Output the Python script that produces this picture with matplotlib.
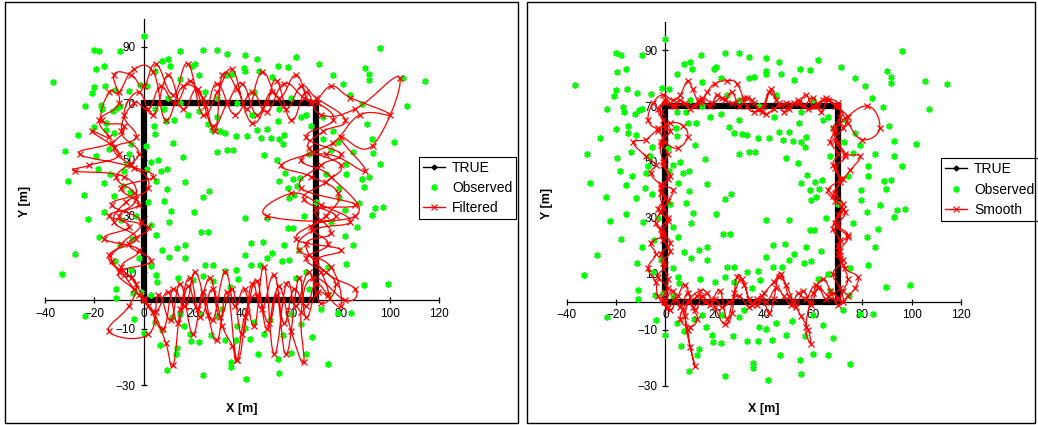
import numpy as np
import matplotlib
matplotlib.use("Agg")
import matplotlib.pyplot as plt
from matplotlib.path import Path
from matplotlib.patches import PathPatch, Rectangle
from matplotlib.lines import Line2D

plt.rcParams["font.family"] = ["Liberation Sans", "DejaVu Sans"]

X_TICKS = [-40, -20, 0, 20, 40, 60, 80, 100, 120]
Y_TICKS = [-30, -10, 10, 30, 50, 70, 90]

# true trajectory (square)
TRUE_X = [0, 70, 70, 0, 0]
TRUE_Y = [0, 0, 70, 70, 0]

OBS_X = [0, -20, -18.2, -9.6, 14.6, 24.3, 30, 34, 41, 46, 62, 96, -36.6, -19.5, -16, 7.6, 10, 10.6, 19.8, 20.7,
         22.6, 34, 36, 40.7, 41, 47, 52, 54.6, 58.6, 71.3, 77, 81, 90, 91.6, 91.6, 105.5, 114.3, 4.6, 15, -20,
         -21, -15.6, -11.5, -6, -1.5, 1.6, -23.6, -17.2, -16.8, -12.3, -10.8, -9.5, 88.5, 84, 107, 90.6, 101.6, 92.7, 93, 96,
         88.8, 91.7, 89.4, 94, 97.3, 92.9, 87.3, 82, 86.5, 85, 81.8, 82.2, 89.5, 99.4, 84.2, 79, 74.7, 85, 82.2, 82.4,
         79.5, 79.5, 79, 77, 72.7, 76.3, -26.7, -32, -30.8, -24.3, -22.6, -18, -27.9, -33.2, -23.6, -20.2, -19.5, -18.3, -16.1, -16,
         -15.2, -15.2, -14.1, -13.7, -11.9, -11.8, -11.5, -11.3, -11.3, -9.6, -9.1, -8.3, -8, -6.9, -5.4, -6.1, -5.3, -4.7, -5.2, -4.3,
         -3.9, 0, 1.5, 3, 6, 7, 9.5, 5, 9.5, 8.5, 11.2, 10.5, 3, 5, 7.5, 10.2, 3, 5, 5.3, 13.6,
         16.7, 16.7, 14.1, 17, 16, 12.3, 9, 4.3, 4.7, 4.6, 8.5, 12, 22.4, 26, 27.7, 29.8, 31, 33, 29.8, 34,
         36.5, 37.5, 42, 46, 50, 47.6, 51.8, 55, 56.7, 54.4, 57, 48.8, 54, 57.4, 55, 60.6, 63.7, 58.6, 59, 61,
         62.5, 50, 58.5, 60.5, 57, 63, 56.4, 59, 41, 41, 43.8, 48.5, 52, 50, 47.3, 43.8, 37.5, 33, 35.3, 38.2,
         25, 28, 20, 24, 28, 23.5, 26.2, 20.5, 24, 26.5, 4.5, 6.5, 7.5, 9.5, 11.5, 13.5, 15, 16.5, 19.3, 22.6,
         24, 27.5, 30, 33.2, 35.5, 37.5, 37.8, 41, 41.8, 43.4, 45, 46.5, 48.8, 54.6, 54.9, 56.7, 60, 64, 68.2, 75,
         51.5, 60, 22.8, 32, 35.5, 13, 19, 66, 66, 68, 64, 67, 65, 66, 62, 67, 72, 70, 74, 76,
         75, 73, -2, -3, 2, 1, -1, 3, 10, 15, 25, 45, 55, 60, 38, 30, 18, 44]
OBS_Y = [94, 89, 88.4, 88.4, 88.4, 88.8, 88.8, 87.4, 87, 85.7, 86.4, 89.7, 77.5, 82, 83.4, 84.9, 85.7, 83.4, 83.4, 84,
         80, 80, 80.5, 82.6, 81.4, 81.4, 79.3, 83.4, 82.8, 83.8, 79.9, 77, 82.6, 80.5, 78.3, 78.9, 78, 81.4, 78.7, 75.7,
         73.5, 76, 74.7, 74.3, 76.4, 76, 69, 69.5, 68, 67.3, 68.5, 69, 69.7, 73, 69, 62.8, 56.4, 57.4, 52.2, 48.6,
         43.1, 43.7, 40.3, 32.8, 33.1, 30.4, 34.7, 32, 26.2, 19.7, 23, 13.1, 5.4, 6, -4.4, -4.5, 2.4, 52.7, 48.6, 45,
         40, 36.4, 56.2, 60.2, 57.2, 53.3, 58.6, 53, 42.3, 37.3, 28.8, 22.4, 16.6, 9.5, -5.6, 61.6, 51.4, 46.8, 41.7, 31.5,
         63, 60.5, 53.6, 45, 37, 59.6, 14, 4.2, 1, 19.7, 28.6, 40.8, 45.9, 48.6, 38.4, 52, 55.4, 22, 10.7, 2.6,
         -6.6, -11.7, 46.8, 49, 50, 46, 46.7, 42.5, 39.5, 35.4, 31.6, 28, 26.8, 23.2, 17.8, 15.5, 12.2, 9, 6.6, 18.5,
         19.7, 15, 8, 42, 51, 64, 63.8, 62, 59.2, 67.8, 68, 56, 67.2, 62.5, 60.5, 65, 60, 59.6, 52.8, 53.5,
         53.5, 58.5, 58.5, 60.6, 60.8, 57.8, 57.6, 57.2, 55.4, 63.8, 58.8, 51.5, 49.8, 45.3, 42.3, 43, 43.5, 40, 36.4, 37.3,
         40.5, 29.4, 25.8, 25.8, 19.7, 18, 13.9, 14.5, 29.2, 16, 12.5, 20.6, 17, 15, 12.5, 20.3, 11, 10.5, 4.8, 7.7,
         12.5, 12.5, 7.2, 8.7, 7, 24.4, 24.4, 31.5, 36.7, 38.7, -7.7, -15.7, -10.5, -24.8, -6, -17, -4.8, -8.9, -14.5, -14.9,
         -26.5, -12.2, -5.5, -13.9, -22, -14, -9, -9.8, -28, -13.7, -7.5, -19, -11.8, -20.9, -25.9, -12.2, -18.8, -8.3, -12.9, -22.4,
         -7, -4.8, -4.8, -3, -23.5, -19, -12, -19, 66, 62, 65, 52, 30, 10, 8, 4, -3, 35, 45, 28,
         12, 65, 15, 30, 35, 55, 3, 2, 72, 70, 74, 74, 68, 72, 70, 72, 66, 66]

# Kalman filtered estimate
FILT_X = [0, 5, 10, 14, 18, 22, 27, 31, 36, 40, 44, 48, 53, 57, 61, 66, 70, 75,
          72, 66, 75, 68, 78, 65, 74, 80, 67, 73, 82, 70,
          64, 58, 52, 46, 40, 34, 28, 22, 16, 10, 4, -2,
          -8, -3, -12, -5, 4, -9, -2, -14, 2, -6, 3, -10, -4, 2,
          8, 12, 17, 21, 26, 30, 34, 38, 42, 46, 50, 54, 58, 63, 66, 71, 80,
          76, 63, 69, 84, 72, 60, 50, 86, 76, 64, 77, 88, 100, 84,
          76, 68, 62, 55, 48, 42, 36, 30, 24, 18, 12, 5, 0, -5,
          -12, -10, -18, -14, -21, -10, -22, -28, -8, -3, -10, -6, -16, -2, -9, -3, -6,
          -14, 2, 6, 11, 15, 20, 24, 28, 33, 37, 41, 45, 49, 53, 58, 62, 67, 72,
          78, 70, 80, 62, 74, 79, 68, 56, 74, 90, 80, 93, 104, 86, 72,
          66, 60, 54, 50, 44, 38, 32, 29, 24, 16, 9, 4, -4, -10,
          -14, -17, -8, -13, -26, -4, 2, -7, -12, -3, -14, -8, -2, 4,
          9, 12, 15, 19, 23, 28, 32, 36, 38, 41, 46, 51, 55, 60, 65, 64, 69, 82, 86,
          74, 66, 76, 70, 86, 64, 72, 80, 66, 77, 71,
          65, 57, 50, 44, 37, 30, 25, 19, 13, 7, 2, -4,
          -9, -2, -11, -4, -13, -1, -9, -13, -5, 0]
FILT_Y = [0, -4, 3, -8, 5, -3, 8, -6, 4, -12, 6, -3, 9, -8, 4, -2, 6, 2,
          10, 15, 20, 26, 30, 36, 42, 48, 54, 60, 64, 72,
          76, 68, 74, 66, 77, 70, 62, 75, 68, 80, 66, 74,
          66, 58, 54, 48, 44, 40, 34, 30, 26, 20, 14, 10, 4, -2,
          -10, 4, -2, 10, -5, -14, 3, -21, -4, 7, -10, 2, -19, 8, -6, 3, -2,
          12, 18, 25, 28, 34, 38, 30, 30, 44, 50, 56, 66, 66, 72,
          76, 70, 80, 72, 81, 68, 82, 74, 66, 84, 73, 84, 76, 80,
          80, 70, 64, 58, 60, 52, 48, 46, 44, 36, 30, 26, 22, 18, 12, 6, -2,
          -11, -12, 2, -7, 6, -12, 3, -7, 10, -2, 4, -9, 12, -19, 6, -2, 10, -1,
          6, 14, 18, 22, 30, 38, 44, 48, 52, 46, 58, 55, 79, 68, 66,
          74, 64, 78, 70, 63, 75, 80, 60, 72, 76, 64, 81, 82, 74,
          74, 64, 62, 56, 52, 47, 40, 35, 28, 22, 16, 9, 2, -4,
          -15, -23, -3, 8, -6, 4, -9, -16, -21, -6, 2, -8, 5, -11, -22, -4, 8, 0, 4,
          10, 20, 24, 32, 34, 40, 48, 52, 58, 64, 70,
          72, 77, 67, 74, 66, 77, 69, 78, 70, 76, 68, 70,
          60, 52, 44, 38, 34, 28, 20, 14, 8, 1]

# fixed-interval smoother estimate
SMOOTH_X = [0, 3, 6, 9, 12, 15, 18, 22, 25, 28, 31, 34, 37, 40, 44, 47, 50, 53, 56, 59, 62, 65, 68, 72,
            71, 68, 72, 70, 74, 69, 72, 68, 71, 69, 73, 70, 68, 71, 70,
            66, 63, 60, 56, 52, 48, 45, 42, 39, 36, 33, 30, 27, 24, 21, 18, 14, 10, 6, 3, 0,
            -3, -1, 2, -2, 1, -1, 2, -2, 0, -3, 1, -1, 2, -2, 0, -3, 1, -1,
            2, 5, 8, 11, 13, 10, 6, 9, 14, 17, 20, 24, 27, 29, 32, 35, 39, 42, 44, 46, 49, 52, 55, 58, 59, 57, 60, 64, 67, 70, 74,
            77, 78, 73, 71, 74, 70, 73, 69, 66, 72, 75, 79, 73, 69, 72, 74, 69,
            65, 62, 58, 54, 50, 46, 43, 40, 36, 33, 29, 25, 20, 17, 14, 11, 9, 6, 3, -1,
            -5, -7, -3, 2, 7, 9, 5, 0, -3, -8, -13, -8, -4, -6, -2, 3, 1, -2, -4, -1, -6, -4, -7, -4, -3,
            1, 4, 7, 9, 10, 12, 8, 13, 16, 20, 23, 26, 30, 34, 37, 41, 45, 48, 51, 54, 57, 61, 66, 70,
            72, 74, 72, 70, 71, 68, 70, 72, 69, 71, 68, 70, 67, 69, 71, 82, 87, 80, 74, 70,
            64, 60, 57, 54, 49, 44, 41, 38, 35, 32, 27, 23, 19, 15, 12, 8, 4, 0,
            -2, 0, -2, -1, 1, -2, -1, 1, -2, -1, 2, -1, 1, 0]
SMOOTH_Y = [0, 4, -2, 3, -3, 2, -1, 4, -6, 3, 8, 1, -1, 3, 7, 10, 2, -2, 4, -1, 5, 1, 3, 0,
            5, 10, 15, 20, 24, 28, 33, 38, 43, 48, 52, 57, 62, 66, 71,
            72, 68, 73, 70, 71, 68, 72, 75, 68, 71, 73, 70, 75, 72, 74, 70, 72, 69, 72, 70, 71,
            69, 65, 61, 57, 53, 49, 45, 41, 37, 33, 29, 25, 21, 17, 13, 9, 5, 1,
            -3, 2, 6, -2, -6, -9, -6, 0, 4, 3, -2, -8, -4, 9, 6, -1, 2, -4, 1, 9, 6, 0, -5, -10, -15, -9, 3, 8, 4, -1, 2,
            5, 9, 12, 18, 23, 27, 32, 36, 40, 44, 47, 52, 53, 58, 62, 66, 70,
            73, 70, 69, 72, 69, 71, 76, 70, 68, 70, 78, 79, 78, 75, 71, 76, 79, 74, 72, 74,
            71, 65, 62, 64, 63, 59, 55, 57, 61, 58, 57, 52, 49, 46, 42, 40, 36, 32, 28, 24, 21, 17, 12, 7, 2,
            -2, 1, -3, -10, -16, -23, -5, 2, 0, 1, -2, 0, 2, -2, 1, 0, 5, 2, -1, 3, 1, 6, 2, 1,
            4, 8, 13, 17, 22, 26, 31, 35, 39, 44, 49, 53, 57, 61, 64, 70, 62, 58, 64, 70,
            72, 70, 74, 71, 71, 69, 67, 69, 72, 73, 71, 73, 71, 73, 70, 71, 70, 72,
            68, 62, 56, 50, 44, 39, 34, 30, 26, 22, 18, 14, 8, 3]

GREEN = "#00FF00"
RED = "#FF0000"


def smooth_curve(xs, ys, sx, sy, t=0.22):
    # excel-like smoothed line: catmull-rom segments as cubic bezier, built in screen scale
    pts = np.column_stack([np.asarray(xs, float) * sx, np.asarray(ys, float) * sy])
    n = len(pts)
    verts = [pts[0]]
    codes = [Path.MOVETO]
    for i in range(n - 1):
        p0 = pts[i - 1] if i > 0 else pts[i]
        p1 = pts[i]
        p2 = pts[i + 1]
        p3 = pts[i + 2] if i + 2 < n else pts[i + 1]
        verts += [p1 + (p2 - p0) * t, p2 - (p3 - p1) * t, p2]
        codes += [Path.CURVE4] * 3
    verts = np.array(verts) / [sx, sy]
    return Path(verts, codes)


def draw_panel(fig, rect, est_x, est_y, est_label, legend_center):
    ax = fig.add_axes(rect)
    ax.set_xlim(-40, 120)
    ax.set_ylim(-30, 100)

    ax.plot(TRUE_X, TRUE_Y, color="black", lw=4.5, solid_joinstyle="miter", zorder=2)
    ax.plot(OBS_X, OBS_Y, ls="none", marker=(6, 2, 0), ms=4.5, mew=1.2,
            color=GREEN, zorder=3)
    path = smooth_curve(est_x, est_y, 2.46, 2.82)
    ax.add_patch(PathPatch(path, fill=False, edgecolor=RED, lw=0.9, zorder=4))
    ax.plot(est_x, est_y, ls="none", marker="x", ms=4, mew=0.9, color=RED, zorder=5)

    for side in ["top", "right"]:
        ax.spines[side].set_visible(False)
    ax.spines["left"].set_position(("data", 0))
    ax.spines["bottom"].set_position(("data", 0))
    for side in ["left", "bottom"]:
        ax.spines[side].set_linewidth(0.9)
        ax.spines[side].set_zorder(1)
    ax.set_xticks(X_TICKS)
    ax.set_yticks(Y_TICKS)
    ax.tick_params(direction="inout", length=5, width=0.9, labelsize=8.5, pad=3, colors="black")
    ax.patch.set_visible(False)

    # axis titles sit at the panel edges, not at the crossing axes
    ax.text(0.5, -0.048, "X [m]", transform=ax.transAxes, ha="center", va="top",
            fontsize=9, fontweight="bold")
    ax.text(-0.05, 0.5, "Y [m]", transform=ax.transAxes, ha="center", va="center",
            rotation=90, fontsize=9, fontweight="bold")

    handles = [
        Line2D([], [], color="black", lw=1, marker="D", ms=2.5),
        Line2D([], [], ls="none", marker=(6, 2, 0), ms=4.5, mew=1.1, color=GREEN),
        Line2D([], [], color=RED, lw=1, marker="x", ms=4, mew=0.8),
    ]
    leg = ax.legend(handles, ["TRUE", "Observed", est_label], loc="center",
                    bbox_to_anchor=legend_center, bbox_transform=fig.transFigure,
                    fontsize=10, frameon=True, fancybox=False, framealpha=1,
                    edgecolor="black", handlelength=1.6, handletextpad=0.5,
                    borderpad=0.3, labelspacing=0.45, borderaxespad=0)
    leg.get_frame().set_linewidth(0.8)
    return ax


def main():
    fig = plt.figure(figsize=(10.38, 4.25), dpi=100)

    # chart area borders
    fig.patches.append(Rectangle((0.005, 0.005), 0.494, 0.99, transform=fig.transFigure,
                                 fill=False, edgecolor="black", lw=1))
    fig.patches.append(Rectangle((0.508, 0.005), 0.489, 0.99, transform=fig.transFigure,
                                 fill=False, edgecolor="black", lw=1))

    draw_panel(fig, [0.0434, 0.0941, 0.3796, 0.8617], FILT_X, FILT_Y, "Filtered", (0.4504, 0.5576))
    draw_panel(fig, [0.5462, 0.0925, 0.3796, 0.8555], SMOOTH_X, SMOOTH_Y, "Smooth", (0.9533, 0.554))

    fig.savefig("out.png", dpi=100)
    plt.close(fig)


if __name__ == "__main__":
    main()
